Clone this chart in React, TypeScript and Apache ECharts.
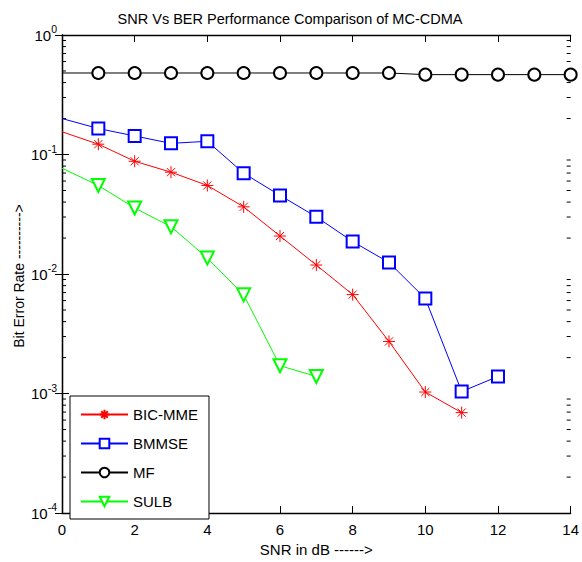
import React, { useEffect, useRef } from "react";
import * as echarts from "echarts";

const snr = [0, 1, 2, 3, 4, 5, 6, 7, 8, 9, 10, 11, 12, 13, 14];
const bicMme = [0.155, 0.122, 0.0878, 0.0712, 0.0551, 0.0365, 0.0208, 0.0119, 0.00673, 0.00273, 0.00103, 0.000693];
const bmmse = [0.2, 0.165, 0.143, 0.124, 0.129, 0.0698, 0.0455, 0.0301, 0.0187, 0.0125, 0.00624, 0.00104, 0.00139];
const mf = [0.481, 0.481, 0.481, 0.481, 0.481, 0.481, 0.481, 0.481, 0.481, 0.481, 0.466, 0.466, 0.466, 0.466, 0.466];
const sulb = [0.0768, 0.0551, 0.0357, 0.0249, 0.0136, 0.0067, 0.00171, 0.00139];
const minorTickValues = [
  2e-4, 3e-4, 4e-4, 5e-4, 6e-4, 7e-4, 8e-4, 9e-4,
  2e-3, 3e-3, 4e-3, 5e-3, 6e-3, 7e-3, 8e-3, 9e-3,
  2e-2, 3e-2, 4e-2, 5e-2, 6e-2, 7e-2, 8e-2, 9e-2,
  0.2, 0.3, 0.4, 0.5, 0.6, 0.7, 0.8, 0.9,
];
const seriesNames = ["BIC-MME", "BMMSE", "MF", "SULB"];

const FONT = "'Liberation Sans', Arial, sans-serif";
const STAR = "path://M0 5L10 5M5 0L5 10M1.6 1.6L8.4 8.4M8.4 1.6L1.6 8.4";

function toData(vals: number[]) {
  return vals.map((v, i) => (i === 0 ? { value: [snr[i], v], symbol: "none" } : { value: [snr[i], v] }));
}

export default function App() {
  const ref = useRef<HTMLDivElement>(null);
  useEffect(() => {
    if (!ref.current) return;
    const chart = echarts.init(ref.current, null, { renderer: "svg" });
    const lineSeries = (name: string, vals: number[], color: string, symbol: string, size: number, extra: any = {}) => ({
      name,
      type: "line",
      data: toData(vals),
      symbol,
      symbolSize: size,
      showAllSymbol: true,
      clip: false,
      lineStyle: { color, width: 1 },
      itemStyle: { color, borderColor: color, borderWidth: 1 },
      emphasis: { disabled: true },
      z: 3,
      ...extra,
    });
    const axisLineStyle = { show: true, lineStyle: { color: "#000", width: 1.3 } };
    chart.setOption({
      animation: false,
      backgroundColor: "#fff",
      title: {
        text: "SNR Vs BER Performance Comparison of MC-CDMA",
        left: 285,
        textAlign: "center",
        top: 6,
        textStyle: { fontFamily: FONT, fontSize: 14.5, fontWeight: "normal", color: "#000" },
      },
      grid: { left: 62, top: 35, right: 9, bottom: 46, containLabel: false },
      legend: {
        data: seriesNames,
        orient: "vertical",
        left: 70,
        top: 396,
        itemWidth: 47,
        itemHeight: 12,
        itemGap: 14,
        padding: [11, 11, 10, 10],
        backgroundColor: "#fff",
        borderColor: "#000",
        borderWidth: 1,
        textStyle: { fontFamily: FONT, fontSize: 15, color: "#000" },
      },
      xAxis: [
        {
          type: "value",
          min: 0,
          max: 14,
          interval: 2,
          position: "bottom",
          name: "SNR in dB ------>",
          nameLocation: "middle",
          nameGap: 28,
          nameTextStyle: { fontFamily: FONT, fontSize: 15, color: "#000" },
          axisLine: axisLineStyle,
          axisTick: { show: true, inside: true, length: 7, lineStyle: { color: "#000" } },
          axisLabel: { fontFamily: FONT, fontSize: 15, color: "#000", margin: 9 },
          splitLine: { show: false },
        },
        {
          type: "value",
          min: 0,
          max: 14,
          interval: 2,
          position: "top",
          axisLine: axisLineStyle,
          axisTick: { show: true, inside: true, length: 7, lineStyle: { color: "#000" } },
          axisLabel: { show: false },
          splitLine: { show: false },
        },
      ],
      yAxis: [
        {
          type: "log",
          logBase: 10,
          min: 1e-4,
          max: 1,
          position: "left",
          axisLine: axisLineStyle,
          axisTick: { show: true, inside: true, length: 7, lineStyle: { color: "#000" } },
          axisLabel: {
            margin: 5,
            formatter: (v: number) => `{b|10}{s|${Math.round(Math.log10(v))}}`,
            rich: {
              b: { fontFamily: FONT, fontSize: 15, color: "#000" },
              s: { fontFamily: FONT, fontSize: 10.5, color: "#000", padding: [0, 0, 12, 0] },
            },
          },
          splitLine: { show: false },
        },
        {
          type: "log",
          logBase: 10,
          min: 1e-4,
          max: 1,
          position: "right",
          axisLine: axisLineStyle,
          axisTick: { show: true, inside: true, length: 7, lineStyle: { color: "#000" } },
          axisLabel: { show: false },
          splitLine: { show: false },
        },
      ],
      graphic: [
        {
          type: "text",
          x: 19,
          y: 276,
          rotation: Math.PI / 2,
          style: {
            text: "Bit Error Rate ---------->",
            fontFamily: FONT,
            fontSize: 14,
            fill: "#000",
            align: "center",
            verticalAlign: "middle",
          },
        },
      ],
      series: [
        lineSeries("BIC-MME", bicMme, "#ff0000", STAR, 12),
        lineSeries("BMMSE", bmmse, "#0000ff", "emptyRect", 12),
        lineSeries("MF", mf, "#000000", "emptyCircle", 12),
        lineSeries("SULB", sulb, "#00ff00", "emptyTriangle", 13, { symbolRotate: 180 }),
        {
          type: "custom",
          silent: true,
          clip: false,
          data: minorTickValues.map((v) => [0, v]),
          renderItem: (params: any, api: any) => {
            const v = api.value(1);
            const pl = api.coord([0, v]);
            const pr = api.coord([14, v]);
            const st = { stroke: "#000", lineWidth: 1 };
            return {
              type: "group",
              children: [
                { type: "line", shape: { x1: pl[0], y1: pl[1], x2: pl[0] + 4, y2: pl[1] }, style: st },
                { type: "line", shape: { x1: pr[0], y1: pr[1], x2: pr[0] - 4, y2: pr[1] }, style: st },
              ],
            };
          },
          z: 1,
        },
      ],
    });
    return () => chart.dispose();
  }, []);
  return <div ref={ref} style={{ position: "absolute", left: 0, top: 0, width: 582, height: 562 }} />;
}
